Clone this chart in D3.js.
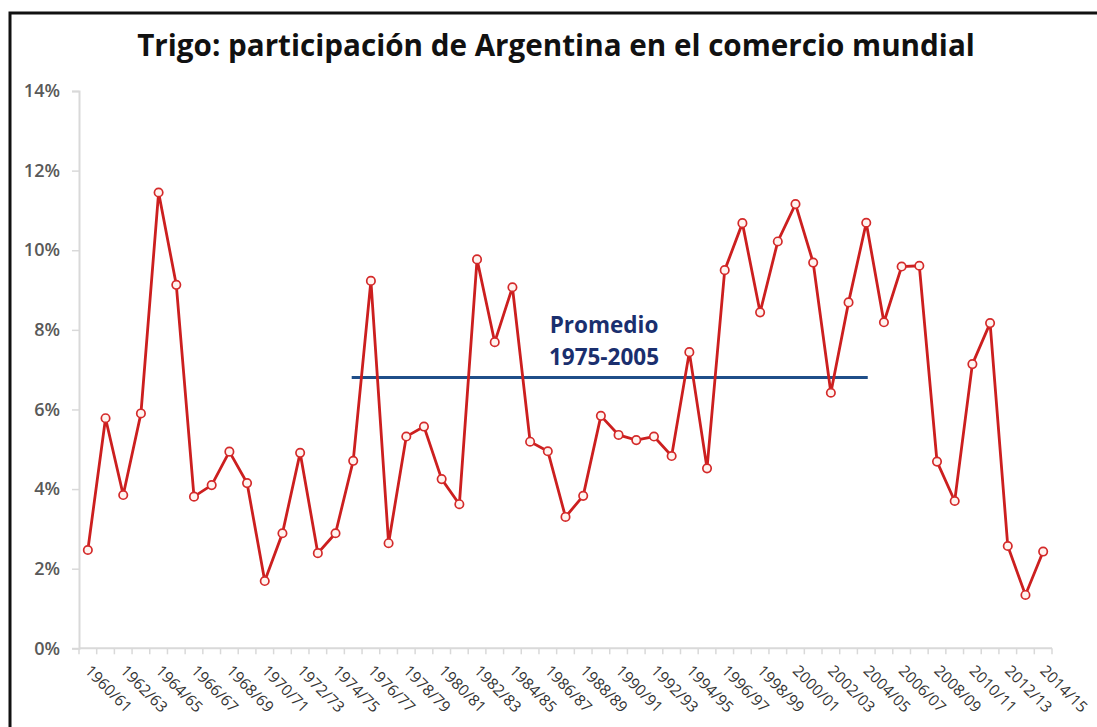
<!DOCTYPE html>
<html>
<head>
<meta charset="utf-8">
<script src="https://cdn.jsdelivr.net/npm/d3@7"></script>
<style>
  html, body { margin: 0; padding: 0; background: #fff; }
  svg { display: block; }
</style>
</head>
<body>
<svg id="chart" width="1097" height="727"></svg>
<script>
const title = "Trigo: participación de Argentina en el comercio mundial";
const campaigns = [
  "1960/61","1961/62","1962/63","1963/64","1964/65","1965/66","1966/67","1967/68","1968/69","1969/70",
  "1970/71","1971/72","1972/73","1973/74","1974/75","1975/76","1976/77","1977/78","1978/79","1979/80",
  "1980/81","1981/82","1982/83","1983/84","1984/85","1985/86","1986/87","1987/88","1988/89","1989/90",
  "1990/91","1991/92","1992/93","1993/94","1994/95","1995/96","1996/97","1997/98","1998/99","1999/00",
  "2000/01","2001/02","2002/03","2003/04","2004/05","2005/06","2006/07","2007/08","2008/09","2009/10",
  "2010/11","2011/12","2012/13","2013/14","2014/15"
];
const share = [
  2.47, 5.78, 3.85, 5.90, 11.45, 9.13, 3.81, 4.10, 4.94, 4.15,
  1.69, 2.89, 4.91, 2.39, 2.89, 4.71, 9.23, 2.64, 5.32, 5.57,
  4.25, 3.62, 9.77, 7.69, 9.07, 5.19, 4.95, 3.30, 3.83, 5.84,
  5.36, 5.23, 5.32, 4.83, 7.44, 4.52, 9.50, 10.68, 8.44, 10.22,
  11.16, 9.69, 6.42, 8.69, 10.69, 8.19, 9.59, 9.61, 4.69, 3.70,
  7.14, 8.17, 2.57, 1.34, 2.43
].map(v => v / 100);
const yTicks = [0, 0.02, 0.04, 0.06, 0.08, 0.10, 0.12, 0.14];
const avgValue = 0.068;
const avgFrom = "1975/76";
const avgTo = "2004/05";
const avgLabel = ["Promedio", "1975-2005"];

const svg = d3.select("#chart");
const font = "'Open Sans', 'Liberation Sans', sans-serif";

// outer frame
svg.append("rect")
  .attr("x", 10).attr("y", 13).attr("width", 1200).attr("height", 900)
  .attr("fill", "none").attr("stroke", "#111").attr("stroke-width", 3);

const x = d3.scaleBand().domain(campaigns).range([79, 1052]).padding(0);
const bw = x.bandwidth();
const cx = c => x(c) + bw / 2;
const y = d3.scaleLinear().domain([0, 0.14]).range([648.3, 91]);

// title
const t = svg.append("text")
  .attr("x", 556).attr("y", 56)
  .attr("text-anchor", "middle")
  .attr("font-family", font).attr("font-weight", "bold")
  .attr("font-size", 25).attr("fill", "#111")
  .text(title);
const tl = t.node().getComputedTextLength();
t.attr("font-size", 25 * 838 / tl);

// y axis
const yAxis = svg.append("g").attr("transform", "translate(79,0)")
  .call(d3.axisLeft(y).tickValues(yTicks).tickFormat(d3.format(".0%")).tickSize(7).tickPadding(12));
yAxis.select(".domain").attr("stroke", "#d9d9d9").attr("stroke-width", 2);
yAxis.selectAll(".tick line").attr("stroke", "#d9d9d9").attr("stroke-width", 1.5);
yAxis.selectAll(".tick text")
  .attr("font-family", font).attr("font-size", 18).attr("font-weight", 600).attr("fill", "#595959");

// x axis line + boundary ticks
const xg = svg.append("g");
xg.append("line")
  .attr("x1", x.range()[0]).attr("x2", x.range()[1])
  .attr("y1", y(0)).attr("y2", y(0))
  .attr("stroke", "#d9d9d9").attr("stroke-width", 2);
const bounds = campaigns.map(c => x(c)).concat([x.range()[1]]);
xg.selectAll("line.tk").data(bounds).join("line").attr("class", "tk")
  .attr("x1", d => d).attr("x2", d => d)
  .attr("y1", y(0)).attr("y2", y(0) + 6)
  .attr("stroke", "#d9d9d9").attr("stroke-width", 1.5);
xg.selectAll("text").data(campaigns.filter((c, i) => i % 2 === 0)).join("text")
  .attr("transform", c => `translate(${cx(c)},${668}) rotate(45)`)
  .attr("dy", "0.35em")
  .attr("font-family", font).attr("font-size", 15.5).attr("fill", "#333")
  .text(c => c);

// average line
svg.append("line")
  .attr("x1", cx(avgFrom)).attr("x2", cx(avgTo))
  .attr("y1", y(avgValue)).attr("y2", y(avgValue))
  .attr("stroke", "#1f4e89").attr("stroke-width", 3).attr("stroke-linecap", "square");

svg.append("g").selectAll("text").data(avgLabel).join("text")
  .attr("x", 604).attr("y", (d, i) => 333 + i * 32)
  .attr("text-anchor", "middle")
  .attr("font-family", font).attr("font-weight", "bold")
  .attr("font-size", 22.5).attr("fill", "#1a2f6e")
  .text(d => d);

// series
const line = d3.line().x((d, i) => cx(campaigns[i])).y(d => y(d));
svg.append("path").datum(share)
  .attr("d", line).attr("fill", "none")
  .attr("stroke", "#cc1f1f").attr("stroke-width", 2.8).attr("stroke-linejoin", "miter");
svg.append("g").selectAll("circle").data(share).join("circle")
  .attr("cx", (d, i) => cx(campaigns[i])).attr("cy", d => y(d))
  .attr("r", 4.2)
  .attr("fill", "#fff4f0").attr("stroke", "#d42a2a").attr("stroke-width", 1.7);
</script>
</body>
</html>
